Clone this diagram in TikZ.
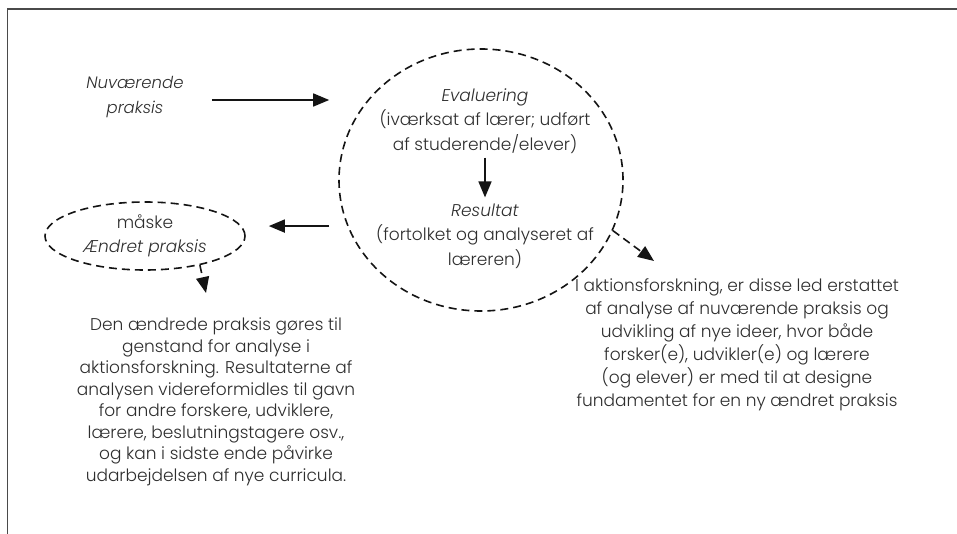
\documentclass[tikz,border=0pt]{standalone}
\usepackage{fontspec}
\setmainfont{Poppins}[UprightFont=* Light,ItalicFont=* Light Italic]
\usetikzlibrary{arrows.meta,shapes.geometric}
\definecolor{ink}{HTML}{141414}
\definecolor{txt}{HTML}{2E2E2E}
\definecolor{rule}{HTML}{4A4A4A}

\begin{document}
\begin{tikzpicture}[x=1pt,y=-1pt,text=txt,>={Triangle[length=16pt,width=13pt]},
  font=\fontsize{17}{24.5}\selectfont,
  loop/.style={draw=ink,line width=1.6pt,dash pattern=on 8pt off 5pt,ellipse,inner sep=0pt,align=center},
  arr/.style={ink,line width=1.6pt,->},
  darr/.style={arr,dash pattern=on 8pt off 5pt},
  note/.style={align=center,inner sep=0pt}]
  \useasboundingbox (0,0) rectangle (957,534);
  % Frame, cut off at the right and at the bottom.
  \draw[rule,line width=1.5pt] (7.5,534)--(7.5,9)--(957,9);

  % Present practice.
  \node[note,font=\fontsize{16.5}{24.5}\selectfont\itshape] (nu) at (135,97) {Nuværende\\praksis};

  % Evaluation loop.
  \node[loop,minimum width=284pt,minimum height=262pt] (circ) at (481,180) {};
  \node[note] (eval) at (485,121) {\textit{Evaluering}\\(iværksat af lærer; udført\\af studerende/elever)};
  \node[note] (res) at (485,236) {\textit{Resultat}\\(fortolket og analyseret af\\læreren)};
  \draw[arr,shorten <=4pt,shorten >=6pt] (eval) -- (res);

  % Maybe changed practice.
  \node[loop,minimum width=200pt,minimum height=68pt] (chg) at (145,236)
    {måske\\\textit{Ændret praksis}};

  \draw[arr] ([xshift=28pt,yshift=-3pt]nu.east) -- ([yshift=-3pt]nu.east -| circ.west)
    [shorten >=9pt];
  \draw[arr,shorten <=18pt,shorten >=23pt] (circ.199) -- (circ.199 -| chg.east);

  % Notes below.
  \node[note,font=\fontsize{17}{21.5}\selectfont] (lft) at (216,402)
    {Den ændrede praksis gøres til\\genstand for analyse i\\aktionsforskning. Resultaterne af\\
     analysen videreformidles til gavn\\for andre forskere, udviklere,\\
     lærere, beslutningstagere osv.,\\og kan i sidste ende påvirke\\
     udarbejdelsen af nye curricula.};
  \node[note,font=\fontsize{17}{23}\selectfont] (rgt) at (737,345)
    {I aktionsforskning, er disse led erstattet\\af analyse af nuværende praksis og\\
     udvikling af nye ideer, hvor både\\forsker(e), udvikler(e) og lærere\\
     (og elever) er med til at designe\\fundamentet for en ny ændret praksis};

  \coordinate (dtip) at (206,293);
  \coordinate (rtip) at (654,261);
  \draw[darr] (chg.-28) -- (dtip);
  \draw[darr] (circ.-21) -- (rtip);
\end{tikzpicture}
\end{document}
